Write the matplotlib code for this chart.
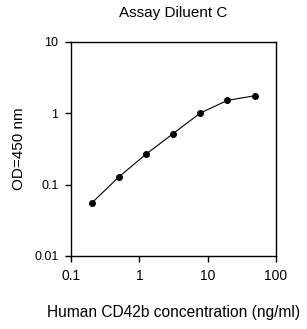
import matplotlib
matplotlib.use("Agg")
import matplotlib.pyplot as plt
from matplotlib.ticker import FixedLocator, FixedFormatter, NullLocator

plt.rcParams["font.family"] = ["Liberation Sans", "DejaVu Sans"]

# standard curve
conc = [0.2, 0.5, 1.25, 3.125, 7.8, 19.5, 50]
od = [0.055, 0.128, 0.267, 0.52, 1.01, 1.52, 1.77]

x_ticks = [0.1, 1, 10, 100]
x_labels = ["0.1", "1", "10", "100"]
y_ticks = [0.01, 0.1, 1, 10]
y_labels = ["0.01", "0.1", "1", "10"]

fig = plt.figure(figsize=(3.07, 3.29), dpi=100)
ax = fig.add_axes([71 / 307, 1 - 256 / 329, 205 / 307, 214 / 329])

ax.plot(conc, od, color="black", linewidth=0.8, marker="o", markersize=4)
ax.set_xscale("log")
ax.set_yscale("log")
ax.set_xlim(0.1, 100)
ax.set_ylim(0.01, 10)

ax.xaxis.set_major_locator(FixedLocator(x_ticks))
ax.xaxis.set_major_formatter(FixedFormatter(x_labels))
ax.xaxis.set_minor_locator(NullLocator())
ax.yaxis.set_major_locator(FixedLocator(y_ticks))
ax.yaxis.set_major_formatter(FixedFormatter(y_labels))
ax.yaxis.set_minor_locator(NullLocator())

ax.tick_params(axis="x", labelsize=10, length=4, width=1, direction="out", pad=5)
ax.tick_params(axis="y", labelsize=9, length=4, width=1, direction="out", pad=5)
for s in ax.spines.values():
    s.set_linewidth(1)

ax.set_xlabel("Human CD42b concentration (ng/ml)", fontsize=11.2, labelpad=16)
ax.set_ylabel("OD=450 nm", fontsize=11, labelpad=6)
fig.text(173 / 307, 1 - 13 / 329, "Assay Diluent C", fontsize=11,
         ha="center", va="center")

fig.savefig("out.png", dpi=100)
